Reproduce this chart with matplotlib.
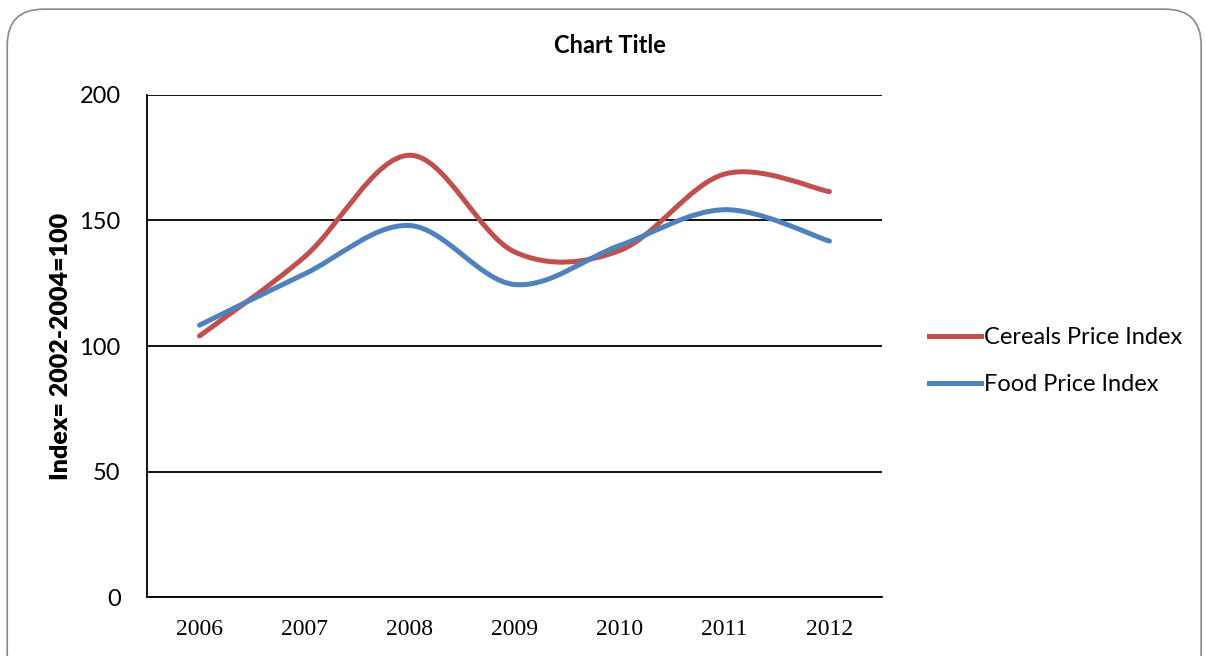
import numpy as np
from matplotlib import pyplot as plt
from matplotlib.path import Path
from matplotlib.patches import PathPatch, FancyBboxPatch
from matplotlib.lines import Line2D

years = ["2006", "2007", "2008", "2009", "2010", "2011", "2012"]
cereals = [104.0, 135.5, 176.0, 137.5, 138.0, 168.5, 161.5]
food = [108.3, 128.7, 148.0, 124.5, 140.0, 154.3, 141.8]

red = "#C0504D"
blue = "#4F81BD"


def smooth_path(xs, ys):
    # bezier segments like the Excel smoothed line
    pts = np.column_stack([xs, ys]).astype(float)
    n = len(pts)
    verts = [pts[0]]
    codes = [Path.MOVETO]
    for i in range(n - 1):
        p0 = pts[max(i - 1, 0)]
        p1 = pts[i]
        p2 = pts[i + 1]
        p3 = pts[min(i + 2, n - 1)]
        c1 = p1 + (p2 - p0) / 6.0
        c2 = p2 - (p3 - p1) / 6.0
        verts += [c1, c2, p2]
        codes += [Path.CURVE4] * 3
    return Path(verts, codes)


fig = plt.figure(figsize=(12.06, 6.56), dpi=100)

# rounded chart border
border = FancyBboxPatch((0.006, -0.05), 0.99, 1.036, boxstyle="round,pad=0,rounding_size=0.03",
                        transform=fig.transFigure, facecolor="none", edgecolor="#888888",
                        linewidth=1.2, mutation_aspect=1206 / 656, zorder=5)
fig.patches.append(border)

ax = fig.add_axes([0.1219, 0.0899, 0.6094, 0.7653])
ax.set_facecolor("none")
x = np.arange(len(years))

for vals, col in [(cereals, red), (food, blue)]:
    patch = PathPatch(smooth_path(x, vals), facecolor="none", edgecolor=col,
                      linewidth=3.6, capstyle="round", joinstyle="round", zorder=3)
    ax.add_patch(patch)

ax.set_xlim(-0.5, 6.5)
ax.set_ylim(0, 200)
ax.set_yticks([0, 50, 100, 150, 200])
ax.set_xticks(x)
ax.set_xticklabels(years, fontfamily="Liberation Serif", fontsize=17)
for lab in ax.get_yticklabels():
    lab.set_fontfamily("Lato")
    lab.set_fontsize(17)
ax.tick_params(length=0, pad=16)
ax.tick_params(axis="y", pad=19)
ax.grid(axis="y", color="black", linewidth=1.3)
ax.set_axisbelow(True)
for s in ["top", "right"]:
    ax.spines[s].set_visible(False)
for s in ["left", "bottom"]:
    ax.spines[s].set_linewidth(1.3)

ax.set_ylabel("Index= 2002-2004=100", fontfamily="Lato", fontweight="heavy", fontsize=18)
ax.yaxis.set_label_coords(-0.102, 0.5)
fig.text(0.506, 0.93, "Chart Title", ha="center", va="center", fontfamily="Lato",
         fontweight="bold", fontsize=17)

handles = [Line2D([], [], color=red, linewidth=3.6), Line2D([], [], color=blue, linewidth=3.6)]
fig.legend(handles, ["Cereals Price Index", "Food Price Index"], loc="center left",
           bbox_to_anchor=(0.753, 0.45), frameon=False, handlelength=2.2, handletextpad=0.12,
           labelspacing=1.1, prop={"family": "Lato", "size": 17})

fig.savefig("out.png", dpi=100)
